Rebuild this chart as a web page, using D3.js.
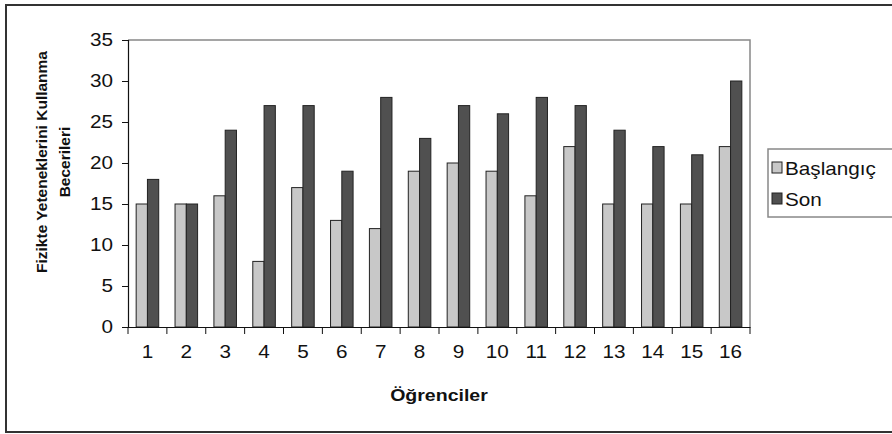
<!DOCTYPE html>
<html><head><meta charset="utf-8">
<script src="https://cdn.jsdelivr.net/npm/d3@7"></script>
<style>
body{margin:0;background:#fff;}
svg{display:block;font-family:"Liberation Sans",Arial,sans-serif;}
</style></head>
<body><svg id="c" width="892" height="434"></svg>
<script>
const categories = ["1","2","3","4","5","6","7","8","9","10","11","12","13","14","15","16"];
const seriesNames = ["Başlangıç","Son"];
const baslangic = [15,15,16,8,17,13,12,19,20,19,16,22,15,15,15,22];
const son = [18,15,24,27,27,19,28,23,27,26,28,27,24,22,21,30];
const yTicks = [0,5,10,15,20,25,30,35];
const colors = ["#c8c8c8","#505050"];

const svg = d3.select("#c");
const m = {l:128, t:40, r:750, b:327};
const SX = 1.15;

// outer border
svg.append("rect").attr("x",6).attr("y",5).attr("width",900).attr("height",427)
  .attr("fill","none").attr("stroke","#333").attr("stroke-width",2);

const x = d3.scaleBand().domain(categories).range([m.l,m.r]).paddingInner(0.42).paddingOuter(0.21);
const x0 = d3.scaleBand().domain(categories).range([m.l,m.r]);
const xs = d3.scaleBand().domain(seriesNames).range([0,x.bandwidth()]);
const y = d3.scaleLinear().domain([0,35]).range([m.b,m.t]);

// plot frame (top & right)
svg.append("path").attr("d",`M${m.l},${m.t}H${m.r}V${m.b}`).attr("fill","none").attr("stroke","#888").attr("stroke-width",1.5);

const data = [baslangic, son];
data.forEach((vals,si)=>{
  svg.append("g").selectAll("rect").data(vals).join("rect")
    .attr("x",(d,i)=>x(categories[i])+xs(seriesNames[si]))
    .attr("y",d=>y(d))
    .attr("width",xs.bandwidth())
    .attr("height",d=>y(0)-y(d))
    .attr("fill",colors[si]).attr("stroke","#222").attr("stroke-width",1);
});

// y axis
const ya = svg.append("g").attr("transform",`translate(${m.l},0)`)
  .call(d3.axisLeft(y).tickValues(yTicks).tickSize(6).tickPadding(8));
ya.select(".domain").attr("stroke","#111").attr("stroke-width",1.2);
ya.selectAll(".tick line").attr("stroke","#111");
ya.selectAll("text").attr("font-size",18).attr("fill","#111").attr("font-family","Liberation Sans, Arial, sans-serif")
  .attr("x",-15/SX).attr("transform",`scale(${SX},1)`);

// x axis
const xa = svg.append("g").attr("transform",`translate(0,${m.b})`)
  .call(d3.axisBottom(x0).tickSize(0).tickPadding(18));
xa.select(".domain").attr("stroke","#111").attr("stroke-width",1.2);
xa.selectAll("text").attr("font-size",18).attr("fill","#111").attr("font-family","Liberation Sans, Arial, sans-serif")
  .attr("transform",`scale(${SX},1)`);
// x ticks at category boundaries
const bounds = categories.map(c=>x0(c)).concat([m.r]);
svg.append("g").selectAll("line").data(bounds).join("line")
  .attr("x1",d=>d).attr("x2",d=>d).attr("y1",m.b).attr("y2",m.b+7)
  .attr("stroke","#111");

// axis titles
svg.append("text").attr("transform",`translate(${(m.l+m.r)/2},401) scale(${SX},1)`).attr("text-anchor","middle")
  .attr("font-weight","bold").attr("font-size",17).attr("fill","#111").text("Öğrenciler");
const yt = svg.append("text").attr("transform","translate(47,162) rotate(-90)")
  .attr("text-anchor","middle").attr("font-weight","bold").attr("font-size",15.5).attr("fill","#111");
yt.append("tspan").attr("x",0).attr("dy",0).text("Fizikte Yeteneklerini Kullanma");
yt.append("tspan").attr("x",0).attr("dy",23).text("Becerileri");

// legend
const lg = svg.append("g");
lg.append("rect").attr("x",768).attr("y",149).attr("width",140).attr("height",68)
  .attr("fill","#fff").attr("stroke","#888").attr("stroke-width",1.5);
seriesNames.forEach((s,i)=>{
  lg.append("rect").attr("x",772).attr("y",162+i*31).attr("width",10).attr("height",11)
    .attr("fill",colors[i]).attr("stroke","#222");
  lg.append("text").attr("transform",`translate(785,${175+i*31}) scale(${SX},1)`).attr("font-size",18).attr("fill","#111").text(s);
});
</script></body></html>
